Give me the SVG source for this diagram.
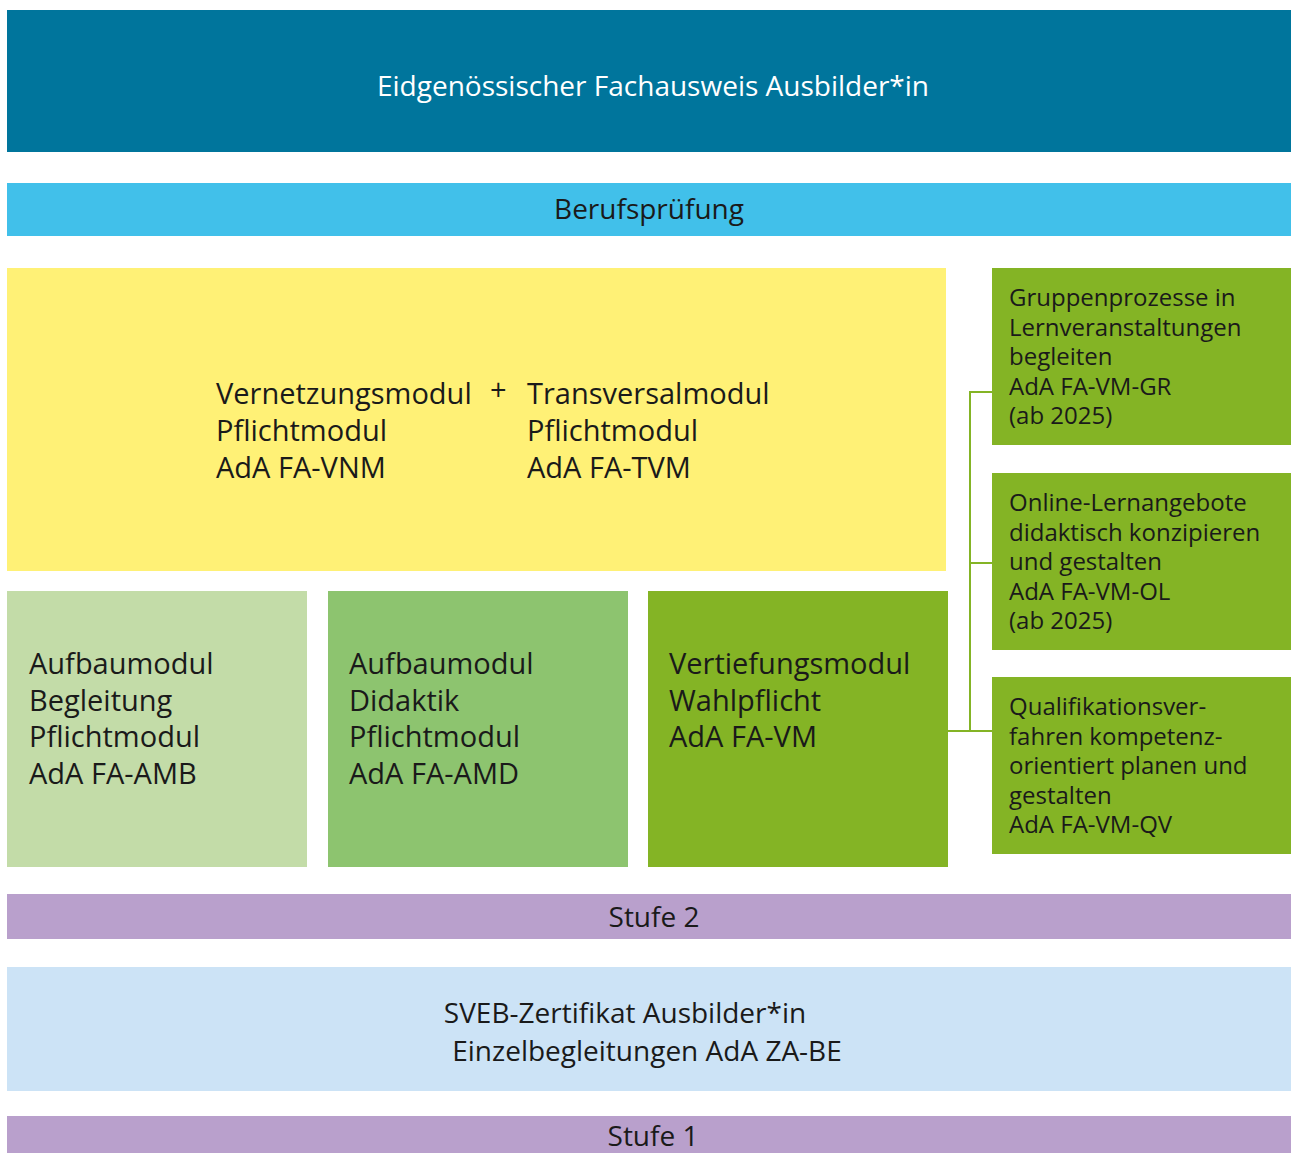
<svg xmlns="http://www.w3.org/2000/svg" width="1291" height="1153" viewBox="0 0 1291 1153">
<style>
text{font-family:"Open Sans","Noto Sans","Liberation Sans",sans-serif;fill:#1a1a1a}
.w{fill:#ffffff}
.big{font-size:29px}
.mid{font-size:28px}
.sm{font-size:24px}
.c{text-anchor:middle}
.ln{stroke:#84b425;stroke-width:2;fill:none}
</style>
<rect width="1291" height="1153" fill="#ffffff"/>
<g id="n-fachausweis"><rect x="7" y="10" width="1284" height="142" fill="#00759c"/><text class="mid w c" x="653" y="96">Eidgenössischer Fachausweis Ausbilder*in</text></g>
<g id="n-berufspruefung"><rect x="7" y="183" width="1284" height="53" fill="#41c0ea"/><text class="mid c" x="649" y="219">Berufsprüfung</text></g>
<g id="n-pflicht"><rect x="7" y="268" width="939" height="303" fill="#fff176"/>
<text class="big" x="216" y="404">Vernetzungsmodul</text><text class="big" x="216" y="441">Pflichtmodul</text><text class="big" x="216" y="478">AdA FA-VNM</text>
<text class="big" x="490" y="400">+</text>
<text class="big" x="527" y="404">Transversalmodul</text><text class="big" x="527" y="441">Pflichtmodul</text><text class="big" x="527" y="478">AdA FA-TVM</text></g>
<g id="n-amb"><rect x="7" y="591" width="300" height="276" fill="#c3dca8"/><text class="big" x="29" y="674">Aufbaumodul</text><text class="big" x="29" y="711">Begleitung</text><text class="big" x="29" y="747">Pflichtmodul</text><text class="big" x="29" y="784">AdA FA-AMB</text></g>
<g id="n-amd"><rect x="328" y="591" width="300" height="276" fill="#8dc46f"/><text class="big" x="349" y="674">Aufbaumodul</text><text class="big" x="349" y="711">Didaktik</text><text class="big" x="349" y="747">Pflichtmodul</text><text class="big" x="349" y="784">AdA FA-AMD</text></g>
<g id="n-vm"><rect x="648" y="591" width="300" height="276" fill="#84b425"/><text class="big" x="669" y="674">Vertiefungsmodul</text><text class="big" x="669" y="711">Wahlpflicht</text><text class="big" x="669" y="747">AdA FA-VM</text></g>
<g id="n-gr"><rect x="992" y="268" width="299" height="177" fill="#84b425"/><text class="sm" x="1009" y="306">Gruppenprozesse in</text><text class="sm" x="1009" y="336">Lernveranstaltungen</text><text class="sm" x="1009" y="365">begleiten</text><text class="sm" x="1009" y="395">AdA FA-VM-GR</text><text class="sm" x="1009" y="424">(ab 2025)</text></g>
<g id="n-ol"><rect x="992" y="473" width="299" height="177" fill="#84b425"/><text class="sm" x="1009" y="511">Online-Lernangebote</text><text class="sm" x="1009" y="541">didaktisch konzipieren</text><text class="sm" x="1009" y="570">und gestalten</text><text class="sm" x="1009" y="600">AdA FA-VM-OL</text><text class="sm" x="1009" y="629">(ab 2025)</text></g>
<g id="n-qv"><rect x="992" y="677" width="299" height="177" fill="#84b425"/><text class="sm" x="1009" y="715">Qualifikationsver-</text><text class="sm" x="1009" y="745">fahren kompetenz-</text><text class="sm" x="1009" y="774">orientiert planen und</text><text class="sm" x="1009" y="804">gestalten</text><text class="sm" x="1009" y="833">AdA FA-VM-QV</text></g>
<g id="n-stufe2"><rect x="7" y="894" width="1284" height="45" fill="#b9a0cc"/><text class="mid c" x="654" y="927">Stufe 2</text></g>
<g id="n-sveb"><rect x="7" y="967" width="1284" height="124" fill="#cce3f6"/><text class="mid c" x="625" y="1023">SVEB-Zertifikat Ausbilder*in</text><text class="mid c" x="647" y="1061">Einzelbegleitungen AdA ZA-BE</text></g>
<g id="n-stufe1"><rect x="7" y="1116" width="1284" height="37" fill="#b9a0cc"/><text class="mid c" x="653" y="1146">Stufe 1</text></g>
<g id="connectors">
<path class="ln" d="M992 392H970V731M948 731H992M970 563H992"/>
</g>
</svg>
